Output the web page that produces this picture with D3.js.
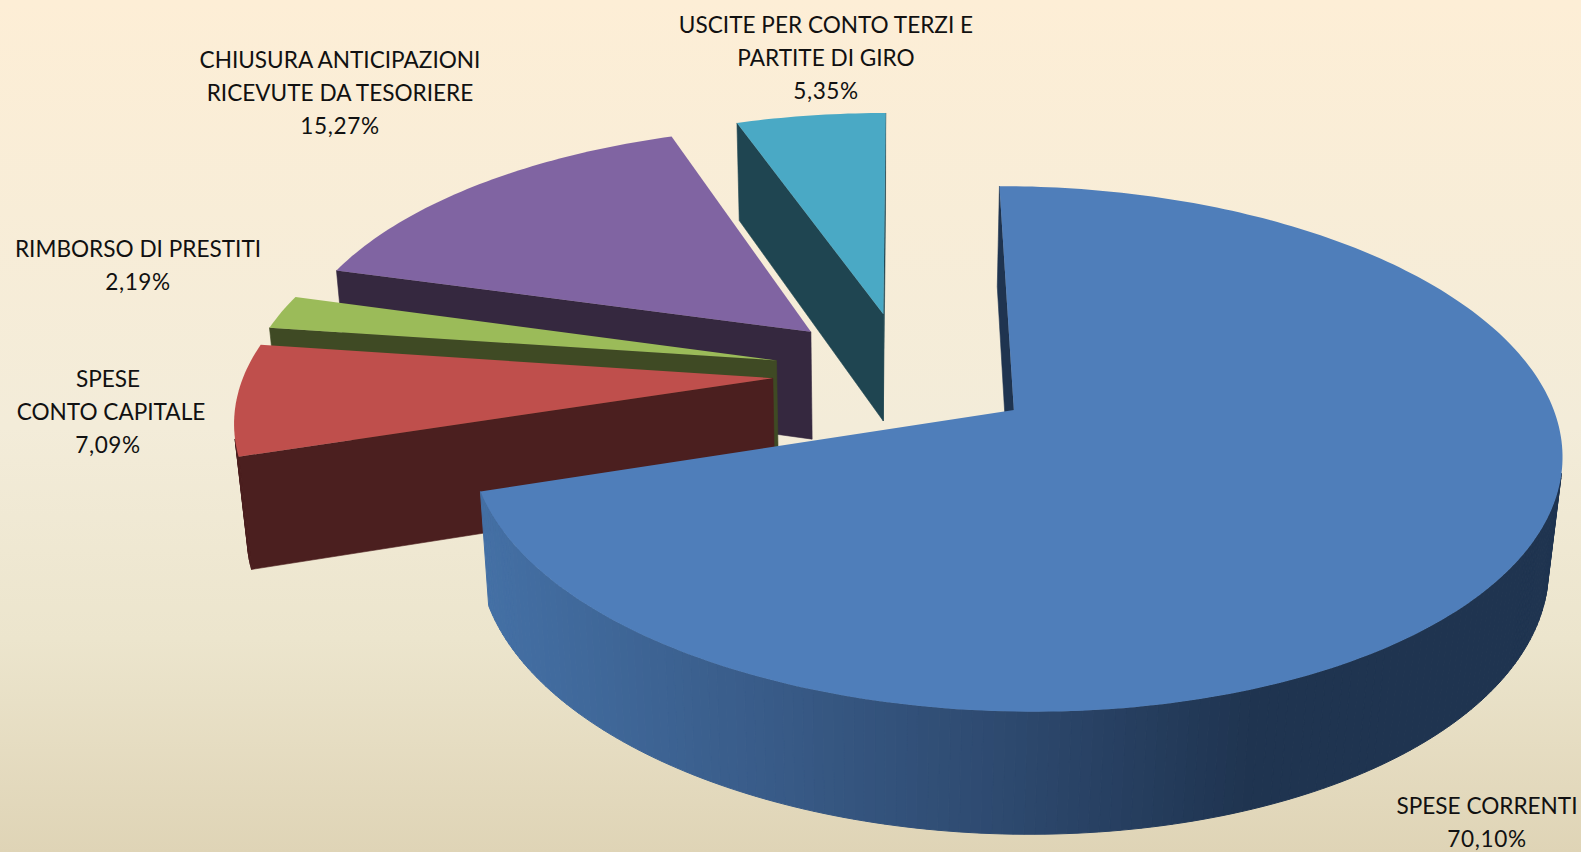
<!DOCTYPE html>
<html>
<head>
<meta charset="utf-8" />
<title>Uscite</title>
<script src="https://d3js.org/d3.v7.min.js"></script>
<style>
html, body { margin: 0; padding: 0; background: #f4ecd8; overflow: hidden; }
text { font-family: Lato, "Open Sans", sans-serif; font-size: 22.6px; fill: #111; text-anchor: middle; }
.pct { letter-spacing: 0.6px; }
</style>
</head>
<body>
<div id="chart"></div>
<script>
var categories = ["SPESE CORRENTI", "SPESE CONTO CAPITALE", "RIMBORSO DI PRESTITI",
    "CHIUSURA ANTICIPAZIONI RICEVUTE DA TESORIERE", "USCITE PER CONTO TERZI E PARTITE DI GIRO"];
var values = [70.10, 7.09, 2.19, 15.27, 5.35];
var labelLines = [
    ["SPESE CORRENTI"],
    ["SPESE", "CONTO CAPITALE"],
    ["RIMBORSO DI PRESTITI"],
    ["CHIUSURA ANTICIPAZIONI", "RICEVUTE DA TESORIERE"],
    ["USCITE PER CONTO TERZI E", "PARTITE DI GIRO"]
];
var topColors = ["#4f7eba", "#bf4f4c", "#9bbb59", "#8064a2", "#4aa9c5"];
var sideColors = ["#1f3450", "#4b1f1f", "#3f4a24", "#35283f", "#1f4551"];

// where each label block is centred, first baseline
var labelPos = [[1487, 814], [108, 387], [138, 257], [340, 68], [826, 33]];
var lineHeight = 33;

var width = 1581, height = 852;

var svg = d3.select("#chart").append("svg")
    .attr("width", width)
    .attr("height", height)
    .style("display", "block");

var grad = svg.append("defs").append("linearGradient")
    .attr("id", "bg")
    .attr("x1", 0).attr("x2", 0).attr("y1", 0).attr("y2", 1);
grad.append("stop").attr("offset", "0%").attr("stop-color", "#fdeed6");
grad.append("stop").attr("offset", "50%").attr("stop-color", "#f3ecd9");
grad.append("stop").attr("offset", "75%").attr("stop-color", "#ece5cd");
grad.append("stop").attr("offset", "100%").attr("stop-color", "#dfd4b6");

svg.append("rect")
    .attr("width", width)
    .attr("height", height)
    .attr("fill", "url(#bg)");

// perspective camera: disc coordinates (u, v), radius 1, with (0,0) on the tip of the big slice.
// v goes to the back, z goes down through the thickness.
var cam = {x0: 1011.3, y0: 410.4, a: 540, k: 0.148, vx: 902, vy: -1327, m: 0.0203, zx: 875, zy: 5980};

function project(u, v, z) {
    var w = 1 + cam.k * v + cam.m * z;
    return [
        (cam.x0 + cam.a * u + cam.vx * cam.k * v + cam.zx * cam.m * z) / w,
        (cam.y0 + cam.vy * cam.k * v + cam.zy * cam.m * z) / w
    ];
}

// every slice is pushed out from the same centre
var centre = [-0.197, 0.149];
var explode = 0.25;

var slices = d3.pie().sort(null).value(function(d) { return d; })(values);

var line = d3.line().curve(d3.curveLinearClosed);

function signedArea(pts) {
    var s = 0;
    pts.forEach(function(p, i) {
        var q = pts[(i + 1) % pts.length];
        s += p[0] * q[1] - q[0] * p[1];
    });
    return s;
}

var wallShade = d3.scaleLinear()
    .domain([480, 760, 1000, 1260])
    .range(["#4470a5", "#395c89", "#2e4a70", "#1f3450"])
    .clamp(true);

// back to front
d3.range(slices.length - 1, -1, -1).forEach(function(i) {
    var s = slices[i];
    var mid = (s.startAngle + s.endAngle) / 2;
    var tipU = centre[0] + explode * Math.sin(mid);
    var tipV = centre[1] + explode * Math.cos(mid);

    function rim(t, z) { return project(tipU + Math.sin(t), tipV + Math.cos(t), z); }
    var tip = function(z) { return project(tipU, tipV, z); };

    var g = svg.append("g").attr("class", "slice");

    // flat cut faces
    var faces = [
        [tip(0), rim(s.startAngle, 0), rim(s.startAngle, 1), tip(1)],
        [rim(s.endAngle, 0), tip(0), tip(1), rim(s.endAngle, 1)]
    ];
    faces.forEach(function(f) {
        if (signedArea(f) < 0) {
            g.append("path").attr("d", line(f)).attr("fill", sideColors[i])
                .attr("stroke", sideColors[i]).attr("stroke-width", 0.6);
        }
    });

    // round wall, one short quad per step so it can shade across
    var n = Math.ceil((s.endAngle - s.startAngle) / (Math.PI / 180));
    var angle = d3.scaleLinear().domain([0, n]).range([s.startAngle, s.endAngle]);
    d3.range(n).forEach(function(j) {
        var q = [rim(angle(j), 0), rim(angle(j + 1), 0), rim(angle(j + 1), 1), rim(angle(j), 1)];
        if (signedArea(q) < 0) {
            var c = i === 0 ? wallShade(q[0][0]) : sideColors[i];
            g.append("path").attr("d", line(q)).attr("fill", c)
                .attr("stroke", c).attr("stroke-width", 1);
        }
    });

    // top
    var top = [tip(0)].concat(d3.range(n + 1).map(function(j) { return rim(angle(j), 0); }));
    g.append("path").attr("d", line(top)).attr("fill", topColors[i]);
});

// labels
values.forEach(function(v, i) {
    var rows = labelLines[i].concat([v.toFixed(2).replace(".", ",") + "%"]);
    var t = svg.append("text").attr("class", "label");
    rows.forEach(function(r, j) {
        t.append("tspan")
            .attr("class", j === rows.length - 1 ? "pct" : null)
            .attr("x", labelPos[i][0] + (r === "CONTO CAPITALE" ? 3 : 0))
            .attr("y", labelPos[i][1] + j * lineHeight)
            .text(r);
    });
});
</script>
</body>
</html>
